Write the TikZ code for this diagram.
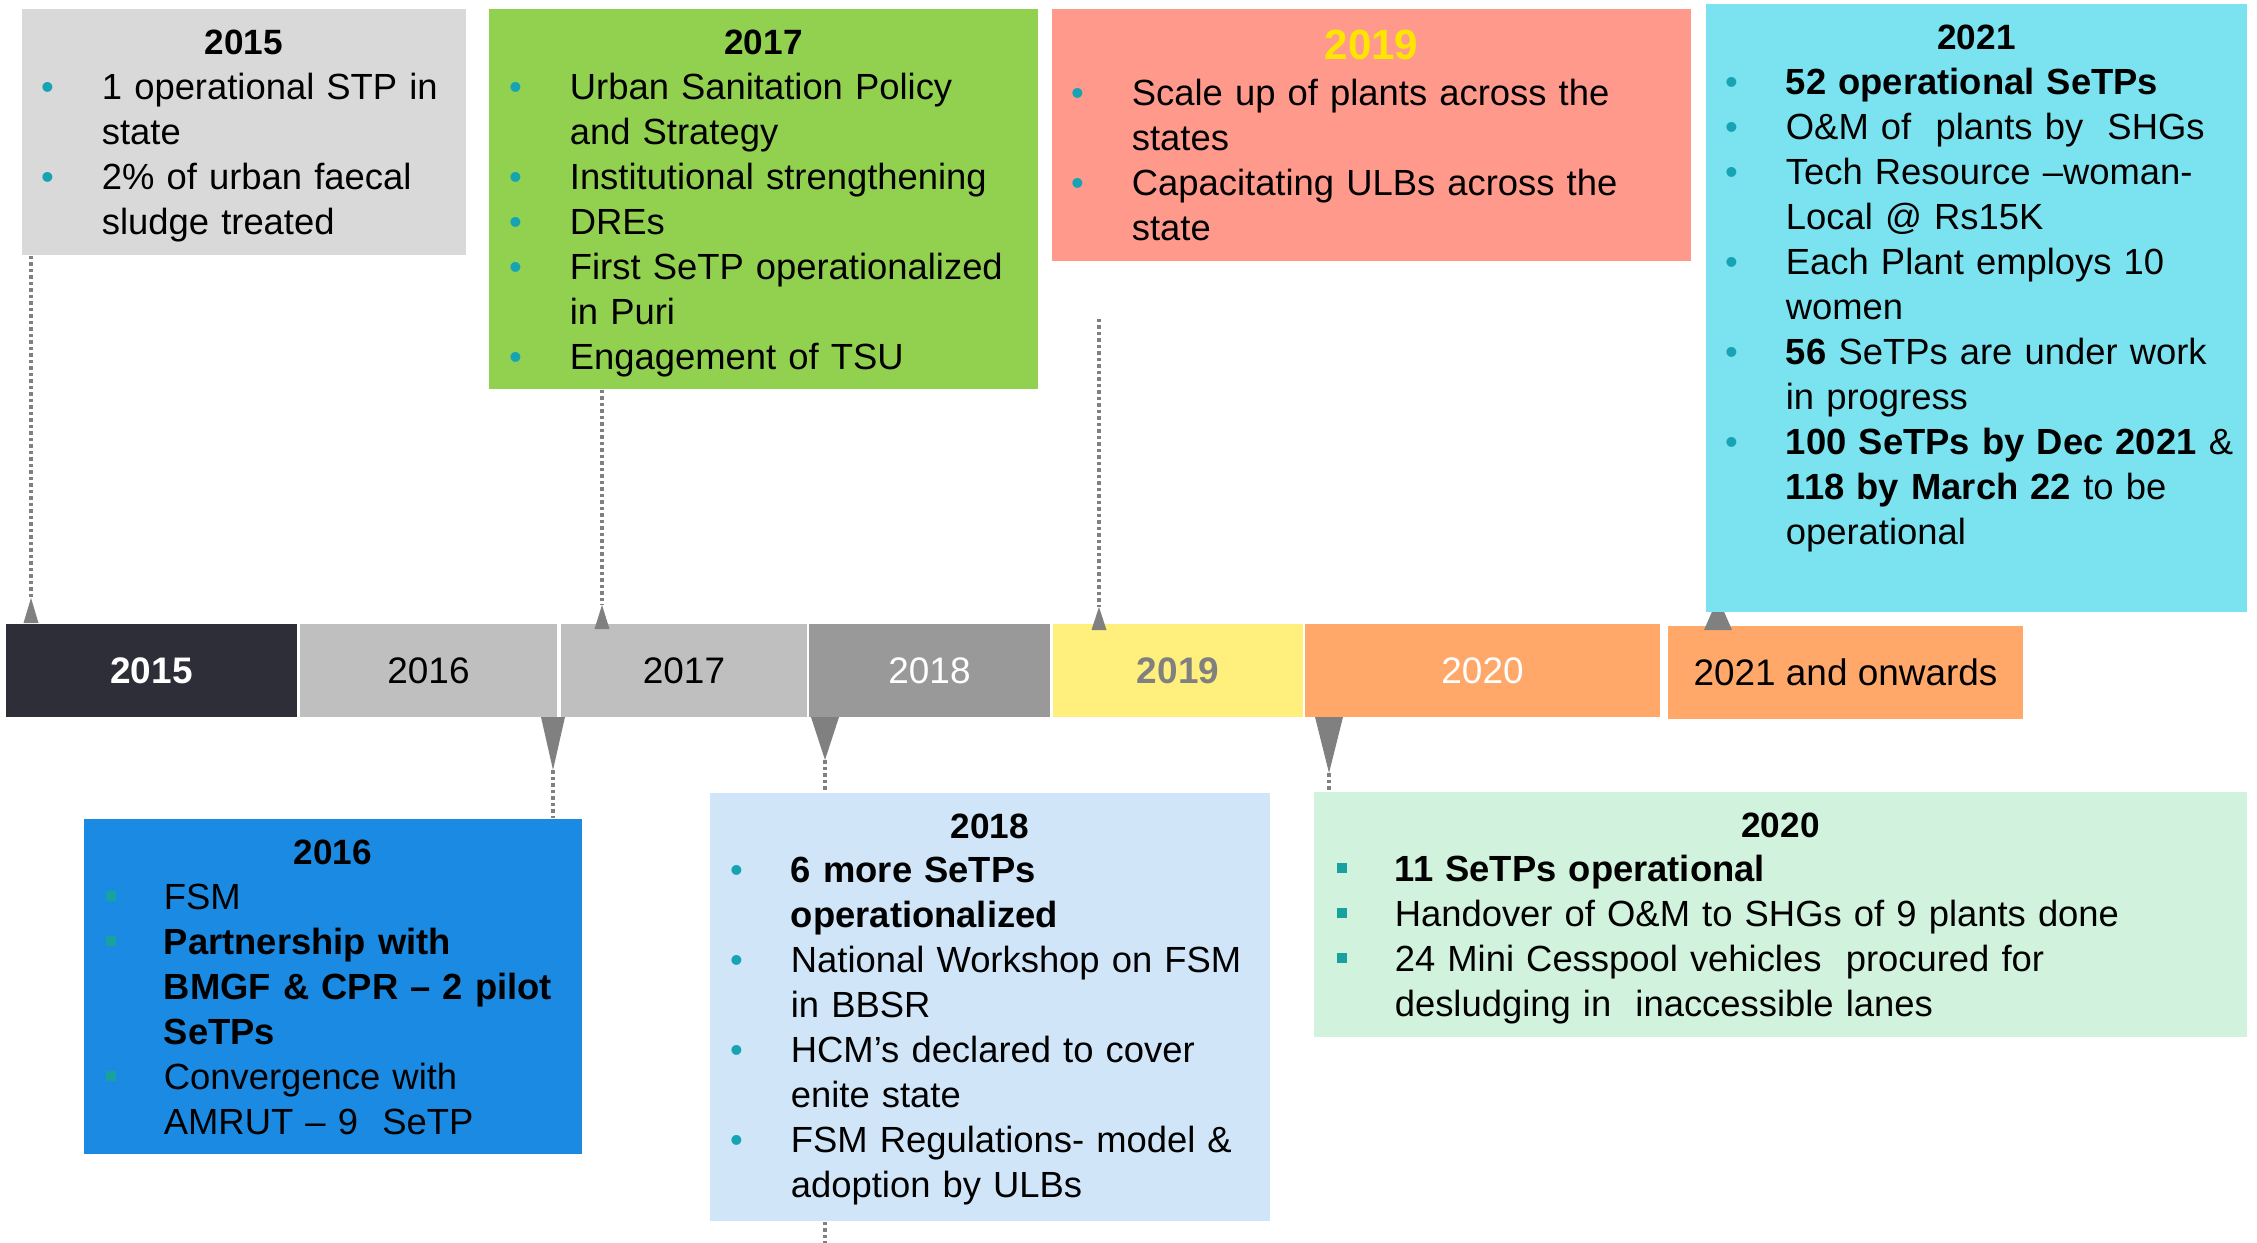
\documentclass[tikz,border=0pt]{standalone}
\usepackage{fontspec}
\setmainfont{Liberation Sans}
\definecolor{c15}{HTML}{2E2E38}
\definecolor{c16}{HTML}{BFBFBF}
\definecolor{c18}{HTML}{999999}
\definecolor{c19}{HTML}{FFF07D}
\definecolor{c20}{HTML}{FFA869}
\definecolor{b15c}{HTML}{D9D9D9}
\definecolor{b16c}{HTML}{1A8AE3}
\definecolor{b17c}{HTML}{92D050}
\definecolor{b18c}{HTML}{D0E6F8}
\definecolor{b19c}{HTML}{FF998C}
\definecolor{b20c}{HTML}{D1F2DC}
\definecolor{b21c}{HTML}{7BE3F0}
\definecolor{bulc}{HTML}{16A3B3}
\definecolor{sqc}{HTML}{17A19F}
\definecolor{gry}{HTML}{808080}
\definecolor{ylw}{HTML}{FFE600}
\newcommand{\dotb}{\leavevmode\llap{\textcolor{bulc}{\textbullet}\hspace{0.48cm}}}
\newcommand{\sqb}{\leavevmode\llap{\textcolor{sqc}{\rule[0.08cm]{0.1cm}{0.1cm}}\hspace{0.48cm}}}
\tikzset{
  seg/.style={rectangle, inner sep=0pt, minimum height=0.93cm, font=\fontsize{10.5}{12}\selectfont},
  box/.style={rectangle, inner sep=0pt},
  ttl/.style={anchor=base, font=\bfseries},
  lst/.style={anchor=base west, align=left, text width=6.8cm, inner sep=0pt},
  dotline/.style={gry, line width=0.035cm, dash pattern=on 0.035cm off 0.03cm}
}
\begin{document}
\begin{tikzpicture}[x=0.01cm, y=-0.01cm, font=\fontsize{10.35}{12.8}\selectfont]
\useasboundingbox[fill=white] (0,0) rectangle (2257,1243);
\node[seg, minimum width=2.91cm] (y15) at (151.5,670.5) [fill=c15, text=white, font=\fontsize{10.5}{12}\selectfont\bfseries] {2015};
\node[seg, minimum width=2.57cm] (y16) at (428.5,670.5) [fill=c16] {2016};
\node[seg, minimum width=2.46cm] (y17) at (684,670.5) [fill=c16] {2017};
\node[seg, minimum width=2.41cm] (y18) at (929.5,670.5) [fill=c18, text=white] {2018};
\node[seg, minimum width=2.50cm] (y19) at (1178,670.5) [fill=c19, text=gry, font=\fontsize{10.5}{12}\selectfont\bfseries] {2019};
\node[seg, minimum width=3.55cm] (y20) at (1482.5,670.5) [fill=c20, text=white] {2020};
\node[seg, minimum width=3.55cm] (y21) at (1845.5,672.5) [fill=c20] {2021 and onwards};
\coordinate (p15) at (31,598);
\coordinate (p17) at (602,605);
\coordinate (p19) at (1099,607);
\coordinate (p21) at (1718,598);
\coordinate (p16) at (553,770);
\coordinate (p18) at (825,760);
\coordinate (p20) at (1329,773);
\coordinate (e18) at (825,1243);
\foreach \p/\w/\l in {p15/7.5/25, p17/7.5/24, p19/7.5/23, p21/14/32}
  \fill[gry] (\p) -- ++(-\w,\l) -- ++(2*\w,0) -- cycle;
\foreach \p/\w/\l in {p16/12/53, p18/14/43, p20/14/56}
  \fill[gry] (\p) -- ++(-\w,-\l) -- ++(2*\w,0) -- cycle;
\node[box, minimum width=4.44cm, minimum height=2.46cm] (b15) at (244,132) [fill=b15c] {};
\node[box, minimum width=5.49cm, minimum height=3.80cm] (b17) at (763.5,199) [fill=b17c] {};
\node[box, minimum width=6.39cm, minimum height=2.52cm] (b19) at (1371.5,135) [fill=b19c] {};
\node[box, minimum width=5.41cm, minimum height=6.08cm] (b21) at (1976.5,308) [fill=b21c] {};
\node[box, minimum width=4.98cm, minimum height=3.35cm] (b16) at (333,986.5) [fill=b16c] {};
\node[box, minimum width=5.60cm, minimum height=4.28cm] (b18) at (990,1007) [fill=b18c] {};
\node[box, minimum width=9.33cm, minimum height=2.45cm] (b20) at (1780.5,914.5) [fill=b20c] {};
\node[ttl] (t15) at ([yshift=-0.46cm]b15.north) {2015};
\node[ttl] (t17) at ([yshift=-0.46cm]b17.north) {2017};
\node[ttl, text=ylw, font=\fontsize{12}{14}\selectfont\bfseries] (t19) at ([yshift=-0.51cm]b19.north) {2019};
\node[ttl] (t21) at ([yshift=-0.46cm]b21.north) {2021};
\node[ttl] (t16) at ([yshift=-0.46cm]b16.north) {2016};
\node[ttl] (t18) at ([yshift=-0.46cm]b18.north) {2018};
\node[ttl] (t20) at ([yshift=-0.46cm]b20.north) {2020};
\node[lst] (l15) at ([xshift=0.8cm,yshift=-0.91cm]b15.north west) {\dotb 1 operational STP in\\ state\\ \dotb 2\% of urban faecal\\ sludge treated};
\node[lst] (l17) at ([xshift=0.81cm,yshift=-0.91cm]b17.north west) {\dotb Urban Sanitation Policy\\ and Strategy\\ \dotb Institutional strengthening\\ \dotb DREs\\ \dotb First SeTP operationalized\\ in Puri\\ \dotb Engagement of TSU};
\node[lst] (l19) at ([xshift=0.8cm,yshift=-0.97cm]b19.north west) {\dotb Scale up of plants across the\\ states\\ \dotb Capacitating ULBs across the\\ state};
\node[lst] (l21) at ([xshift=0.8cm,yshift=-0.91cm]b21.north west) {\dotb \textbf{52 operational SeTPs}\\ \dotb O\&M of\ \ plants by\ \ SHGs\\ \dotb Tech Resource –woman-\\ Local @ Rs15K\\ \dotb Each Plant employs 10\\ women\\ \dotb \textbf{56} SeTPs are under work\\ in progress\\ \dotb \textbf{100 SeTPs by Dec 2021} \&\\ \textbf{118 by March 22} to be\\ operational};
\node[lst] (l16) at ([xshift=0.8cm,yshift=-0.91cm]b16.north west) {\sqb FSM\\ \sqb \textbf{Partnership with}\\ \textbf{BMGF \& CPR – 2 pilot}\\ \textbf{SeTPs}\\ \sqb Convergence with\\ AMRUT – 9\ \ SeTP};
\node[lst] (l18) at ([xshift=0.81cm,yshift=-0.90cm]b18.north west) {\dotb \textbf{6 more SeTPs}\\ \textbf{operationalized}\\ \dotb National Workshop on FSM\\ in BBSR\\ \dotb HCM’s declared to cover\\ enite state\\ \dotb FSM Regulations- model \&\\ adoption by ULBs};
\node[lst, text width=8.5cm] (l20) at ([xshift=0.81cm,yshift=-0.90cm]b20.north west) {\sqb \textbf{11 SeTPs operational}\\ \sqb Handover of O\&M to SHGs of 9 plants done\\ \sqb 24 Mini Cesspool vehicles\ \ procured for\\ desludging in\ \ inaccessible lanes};
\foreach \a/\b in {b15/p15, b17/p17}
  \draw[dotline] (\a.south -| \b) -- (\b);
\draw[dotline] (p19 |- b19.south) ++(0,57) -- (p19);
\foreach \a/\b in {b16/p16, b18/p18, b20/p20}
  \draw[dotline] (\b) -- (\a.north -| \b);
\draw[dotline] (b18.south -| e18) -- (e18);
\end{tikzpicture}
\end{document}
